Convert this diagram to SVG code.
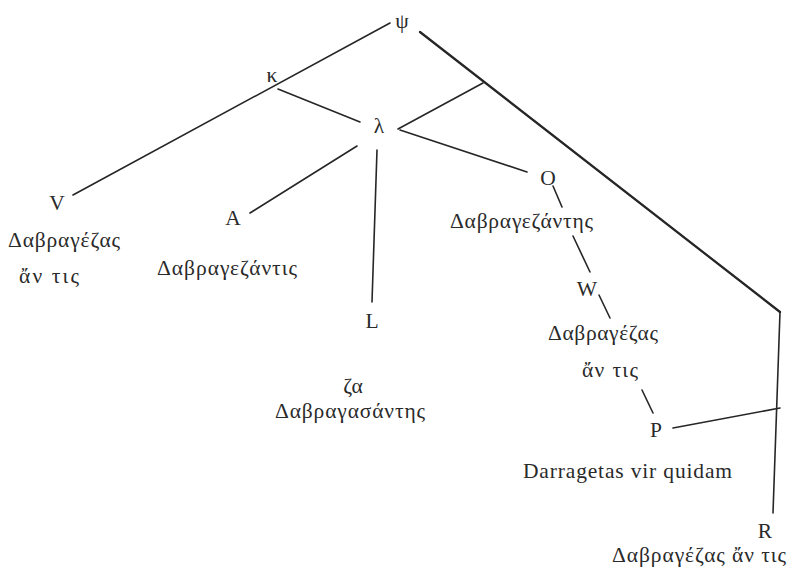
<svg xmlns="http://www.w3.org/2000/svg" width="789" height="578" viewBox="0 0 789 578">
<style>
.t{font-family:"Liberation Serif","DejaVu Serif",serif;font-size:21.5px;fill:#2a2a2a}
.n{font-family:"Liberation Serif","DejaVu Serif",serif;font-size:21.5px;fill:#2a2a2a;text-anchor:middle}
.c{stroke:#262626;stroke-width:1.6;fill:none;stroke-linecap:round}
.m{stroke-width:2.3}
</style>
<rect width="789" height="578" fill="#ffffff"/>
<g id="connectors">
<line class="c" x1="390" y1="23" x2="73" y2="195"/>
<line class="c" x1="278" y1="89" x2="360" y2="122"/>
<line class="c" x1="357" y1="146" x2="250" y2="213"/>
<line class="c" x1="377" y1="150" x2="372" y2="302"/>
<line class="c" x1="398" y1="129" x2="483" y2="83"/>
<line class="c" x1="400" y1="130" x2="527" y2="172"/>
<line class="c m" x1="420" y1="32" x2="780" y2="312"/>
<line class="c" x1="780" y1="312" x2="773" y2="513"/>
<line class="c" x1="553" y1="186" x2="562" y2="207"/>
<line class="c" x1="573" y1="236" x2="590" y2="272"/>
<line class="c" x1="599" y1="295" x2="610" y2="318"/>
<line class="c" x1="642" y1="390" x2="653" y2="413"/>
<line class="c" x1="673" y1="428" x2="780" y2="408"/>
</g>
<g id="node-psi"><text class="n" x="402" y="28">ψ</text></g>
<g id="node-kappa"><text class="n" x="272" y="82">κ</text></g>
<g id="node-lambda"><text class="n" x="379" y="133">λ</text></g>
<g id="node-V">
<text class="n" x="57" y="210">V</text>
<text class="t" x="8" y="247" textLength="112" lengthAdjust="spacing">Δαβραγέζας</text>
<text class="t" x="19" y="283" textLength="60" lengthAdjust="spacing">ἄν τις</text>
</g>
<g id="node-A">
<text class="n" x="233" y="225">A</text>
<text class="t" x="157" y="275" textLength="140" lengthAdjust="spacing">Δαβραγεζάντις</text>
</g>
<g id="node-L">
<text class="n" x="372" y="328">L</text>
<text class="n" x="353" y="393">ζα</text>
<text class="t" x="275" y="418" textLength="150" lengthAdjust="spacing">Δαβραγασάντης</text>
</g>
<g id="node-O">
<text class="n" x="548" y="185">O</text>
<text class="t" x="450" y="228" textLength="143" lengthAdjust="spacing">Δαβραγεζάντης</text>
</g>
<g id="node-W">
<text class="n" x="587" y="296">W</text>
<text class="t" x="548" y="340" textLength="110" lengthAdjust="spacing">Δαβραγέζας</text>
<text class="t" x="582" y="377" textLength="56" lengthAdjust="spacing">ἄν τις</text>
</g>
<g id="node-P">
<text class="n" x="656" y="437">P</text>
<text class="t" x="523" y="478" textLength="209" lengthAdjust="spacing">Darragetas vir quidam</text>
</g>
<g id="node-R">
<text class="n" x="765" y="538">R</text>
<text class="t" x="612" y="562" textLength="174" lengthAdjust="spacing">Δαβραγέζας ἄν τις</text>
</g>
</svg>
